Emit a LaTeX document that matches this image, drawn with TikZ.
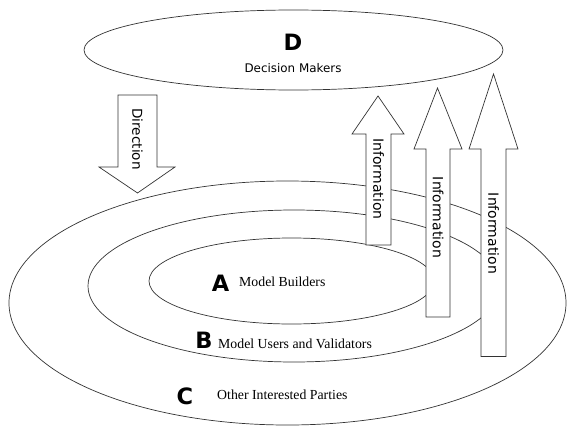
\documentclass[tikz,border=0pt]{standalone}
\usepackage{fontspec}
\setmainfont{Liberation Serif}
\newfontfamily\dvsans{DejaVu Sans}
\begin{document}
\begin{tikzpicture}[x=1pt,y=-1pt,
  outline/.style={draw=black!80, line width=0.7pt},
  blockarrow/.style={draw=black!80, fill=white, line width=0.7pt, line join=miter},
  bigletter/.style={font=\dvsans\bfseries\fontsize{22.5}{26}\selectfont, inner sep=0pt},
  seriflabel/.style={font=\fontsize{13.8}{16}\selectfont, inner sep=0pt, anchor=west},
  arrowtext/.style={font=\dvsans\fontsize{14}{16}\selectfont, rotate=-90, inner sep=0pt},
  smalltext/.style={font=\dvsans\fontsize{11.9}{14}\selectfont, inner sep=0pt}]
\useasboundingbox (0,0) rectangle (567,428);
% rings
\draw[outline] (287.5,303) ellipse [x radius=278.5pt, y radius=122pt];
\draw[outline] (294,286) ellipse [x radius=206pt, y radius=76pt];
\draw[outline] (291.6,281) ellipse [x radius=142.6pt, y radius=43pt];
% decision makers
\draw[outline, fill=white] (293.5,50) ellipse [x radius=209.5pt, y radius=40pt];
\node[bigletter] (dl) at (293,42.5) {D};
\node[smalltext] (dm) at (293,68) {Decision Makers};
% direction arrow
\draw[blockarrow] (118,95) -- (157,95) -- (157,167) -- (175,167) -- (137.5,193) -- (99,167) -- (118,167) -- cycle;
\node[arrowtext, font=\dvsans\fontsize{13.6}{16}\selectfont] (dir) at (137.5,139) {Direction};
% information arrows
\draw[blockarrow] (366,245) -- (366,134) -- (352,134) -- (378,96) -- (404,134) -- (391,134) -- (391,245) -- cycle;
\draw[blockarrow] (426,317) -- (426,149) -- (414,149) -- (437.5,88) -- (462,149) -- (450,149) -- (450,317) -- cycle;
\draw[blockarrow] (481,356.5) -- (481,149) -- (469,149) -- (493.5,74) -- (518,149) -- (506,149) -- (506,356.5) -- cycle;
\node[arrowtext] (i1) at (378.5,179) {Information};
\node[arrowtext] (i2) at (438,217.5) {Information};
\node[arrowtext] (i3) at (493.5,233.5) {Information};
% ring labels
\node[bigletter] (la) at (220.5,283) {A};
\node[seriflabel] (ta) at (239,282) {Model Builders};
\node[bigletter] (lb) at (204,340.5) {B};
\node[seriflabel] (tb) at (218,344) {Model Users and Validators};
\node[bigletter] (lc) at (185,396) {C};
\node[seriflabel] (tc) at (217,395) {Other Interested Parties};
\end{tikzpicture}
\end{document}
